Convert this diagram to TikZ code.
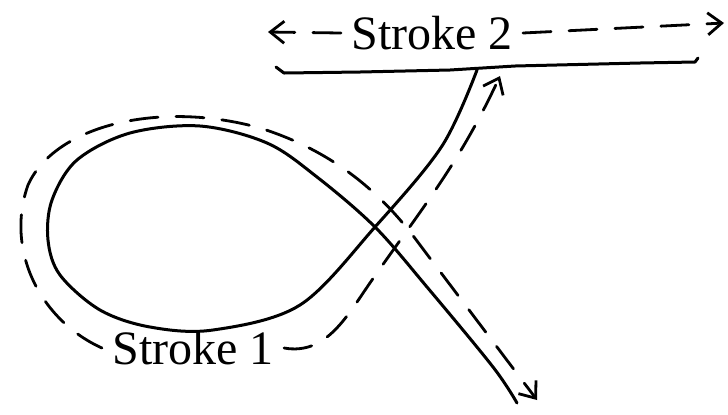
\documentclass[tikz,border=0pt]{standalone}
\usepackage{fontspec}
\setmainfont{Liberation Serif}
\usetikzlibrary{arrows.meta}

\begin{document}
\begin{tikzpicture}[x=0.5pt,y=-0.5pt,line cap=round,line join=round,
    >={Straight Barb[length=7pt,width=11pt,line width=1.4pt]},
    pen/.style={line width=1.5pt},
    guide/.style={line width=1.4pt,dash pattern=on 14pt off 9pt,->},
    lbl/.style={font=\fontsize{24}{24}\selectfont,inner sep=5pt}]
  \useasboundingbox (0,0) rectangle (728,414);
  % stroke 1: the loop
  \draw[pen] plot[smooth,tension=0.55] coordinates {
    (477,70) (442,146) (375,227) (300,305) (213,330) (150,327) (100,310)
    (60,275) (48,240) (52,200) (77,160) (130,133) (200,126) (267,143)
    (317,177) (375,227) (427,287) (493,367) (517,403)};
  % stroke 2: the bar
  \draw[pen] (276,67) -- (284,73) -- (360,72) -- (450,70) -- (515,66)
    -- (640,63) -- (695,62) -- (698,58);
  \node[lbl] (s1) at (193,348) {Stroke 1};
  \node[lbl] (s2) at (432,33) {Stroke 2};
  \coordinate (s1top) at (500,76);
  \coordinate (s1end) at (537,400);
  \coordinate (s2left) at (268,32);
  \coordinate (s2right) at (724,23);
  \draw[guide] (s1.east) to[out=-10,in=235] (372,280)
    to[out=55,in=245] (s1top);
  \draw[guide] (s1.west) .. controls (40,320) and (5,250) .. (28,185)
    .. controls (55,125) and (160,100) .. (260,128)
    .. controls (330,150) and (380,190) .. (420,245)
    -- (s1end);
  \draw[guide] (s2.west) -- (s2left);
  \draw[guide] (s2.east) -- (s2right);
\end{tikzpicture}
\end{document}
